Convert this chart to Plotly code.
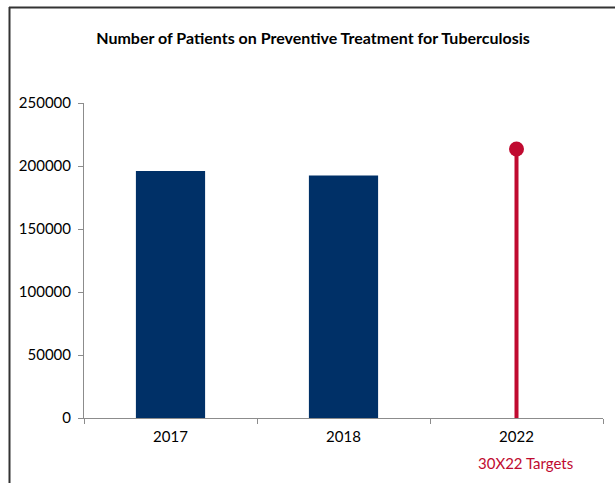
import plotly.graph_objects as go

categories = ["2017", "2018", "2022"]
bar_years = ["2017", "2018"]
bar_values = [196000, 192500]
target_year = "2022"
target_value = 213500
y_ticks = [0, 50000, 100000, 150000, 200000, 250000]
title_text = "Number of Patients on Preventive Treatment for Tuberculosis"
target_label = "30X22 Targets"

W, H = 615, 483
L, R, T, B = 84, 12, 103, 65
pw, ph = W - L - R, H - T - B

def px_x(p):
    return (p - L) / pw

def px_y(p):
    return (H - B - p) / ph

FONT = "Lato"
NAVY = "#003067"
RED = "#c00a30"

fig = go.Figure()
fig.add_trace(go.Bar(x=bar_years, y=bar_values, marker=dict(color=NAVY, line=dict(width=0)),
                     width=0.4, showlegend=False, hoverinfo="skip"))
fig.add_trace(go.Scatter(x=[target_year, target_year], y=[0, target_value], mode="lines",
                         line=dict(color=RED, width=4), showlegend=False, hoverinfo="skip"))
fig.add_trace(go.Scatter(x=[target_year], y=[target_value], mode="markers",
                         marker=dict(color=RED, size=15), showlegend=False, hoverinfo="skip"))

fig.update_layout(
    width=W, height=H,
    margin=dict(l=L, r=R, t=T, b=B),
    paper_bgcolor="white", plot_bgcolor="white",
    font=dict(family=FONT, size=14, color="black"),
    title=dict(text="<b>" + title_text + "</b>", x=313 / W, xanchor="center",
               y=1 - 38 / H, yanchor="middle", font=dict(family=FONT, size=16, color="black")),
    xaxis=dict(type="category", categoryorder="array", categoryarray=categories,
               range=[-0.5, 2.5], showline=True, linecolor="#8c8c8c", linewidth=1,
               ticks="outside", tickson="boundaries", ticklen=5, tickcolor="#8c8c8c",
               ticklabelstandoff=5,
               showgrid=False, zeroline=False, tickfont=dict(size=15)),
    yaxis=dict(range=[0, 250000], tickvals=y_ticks, ticktext=[str(v) for v in y_ticks],
               showline=True, linecolor="#8c8c8c", linewidth=1, ticks="outside", ticklen=5,
               ticklabelstandoff=4,
               tickcolor="#8c8c8c", showgrid=False, zeroline=False, tickfont=dict(size=15)),
    shapes=[
        dict(type="line", xref="paper", yref="paper", x0=px_x(9.5), x1=px_x(9.5),
             y0=px_y(7), y1=px_y(490), line=dict(color="#333333", width=2)),
        dict(type="line", xref="paper", yref="paper", x0=px_x(9), x1=px_x(620),
             y0=px_y(7.5), y1=px_y(7.5), line=dict(color="#333333", width=2)),
    ],
    annotations=[
        dict(text=target_label, x=(categories.index(target_year) + 0.5) / len(categories),
             xref="paper", y=px_y(463), yref="paper",
             xshift=9, showarrow=False, font=dict(family=FONT, size=15, color=RED),
             xanchor="center", yanchor="middle"),
    ],
)

fig.write_html("out.html", config={"displayModeBar": False},
               post_script="document.body.style.margin='0';document.body.style.overflow='hidden';")
